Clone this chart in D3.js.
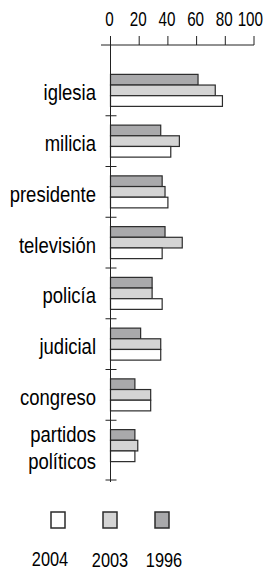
<!DOCTYPE html>
<html>
<head>
<meta charset="utf-8">
<script src="https://cdn.jsdelivr.net/npm/d3@7"></script>
<style>
body { margin: 0; background: #fff; }
text { font-family: "Liberation Sans", Arial, sans-serif; fill: #000; }
</style>
</head>
<body>
<svg id="chart"></svg>
<script>
// categories top to bottom (percent)
const categories = ['iglesia', 'milicia', 'presidente', 'televisión', 'policía', 'judicial', 'congreso', 'partidos\npolíticos'];
const years = ['1996', '2003', '2004'];
const values1996 = [61, 35, 36, 38, 29, 21, 17, 17];
const values2003 = [73, 48, 38, 50, 29, 35, 28, 19];
const values2004 = [78, 42, 40, 36, 36, 35, 28, 17];
const xticks = [0, 20, 40, 60, 80, 100];
const legendYears = ['2004', '2003', '1996'];

class BarChart{

    constructor( config, data ){
	this.config = {
	    parent: config.parent,
	    width: config.width || 265,
	    height: config.height || 570
	}
	this.data = data;
	this.init();
    }

    init() {
	let self = this;

	self.svg = d3.select( self.config.parent )
	    .attr('width', self.config.width)
	    .attr('height', self.config.height);

	self.colors = d3.scaleOrdinal()
	    .domain(years)
	    .range(['#a9a9ab', '#d4d4d4', '#ffffff']);

	self.xscale = d3.scaleLinear()
	    .domain([0, 100])
	    .range([110.5, 254]);

	self.yscale = d3.scaleBand()
	    .domain(categories)
	    .range([65, 471]);

	self.inner = d3.scaleBand()
	    .domain(years)
	    .range([0, 32]);

	self.axis_y = 45;
    }

    render() {
	let self = this;
	let x0 = self.xscale(0);
	// the source font is condensed, so squeeze text horizontally
	let place = (x, y, k) => `translate(${x}, ${y}) scale(${k}, 1)`;

	// bars
	self.svg.append('g').selectAll('g')
	    .data(self.data)
	    .join('g')
	    .attr('transform', d => `translate(0, ${self.yscale(d.name) + (self.yscale.bandwidth() - 32) / 2})`)
	    .selectAll('rect')
	    .data(d => years.map(y => ({ year: y, value: d[y] })))
	    .join('rect')
	    .attr('x', x0)
	    .attr('y', d => self.inner(d.year))
	    .attr('width', d => self.xscale(d.value) - x0)
	    .attr('height', self.inner.bandwidth())
	    .attr('fill', d => self.colors(d.year))
	    .attr('stroke', '#2b2b2b')
	    .attr('stroke-width', 1.2);

	// top axis
	let xaxis = self.svg.append('g');
	xaxis.append('line')
	    .attr('x1', 101).attr('x2', self.xscale(100))
	    .attr('y1', self.axis_y).attr('y2', self.axis_y)
	    .attr('stroke', '#222');
	xaxis.selectAll('.tk')
	    .data(xticks)
	    .join('line')
	    .attr('x1', d => self.xscale(d)).attr('x2', d => self.xscale(d))
	    .attr('y1', self.axis_y - 9).attr('y2', self.axis_y)
	    .attr('stroke', '#222');
	xaxis.selectAll('text')
	    .data(xticks)
	    .join('text')
	    .attr('transform', (d, i) => place(i == xticks.length - 1 ? 263 : self.xscale(d) - 1, 26, 0.78))
	    .attr('text-anchor', (d, i) => i == xticks.length - 1 ? 'end' : 'middle')
	    .attr('font-size', 19.5)
	    .text(d => d);

	// left axis
	let yaxis = self.svg.append('g');
	yaxis.append('line')
	    .attr('x1', x0).attr('x2', x0)
	    .attr('y1', self.axis_y - 9).attr('y2', 482)
	    .attr('stroke', '#222');
	let bounds = categories.slice(1).map(c => self.yscale(c)).concat([480]);
	yaxis.selectAll('.tk')
	    .data(bounds)
	    .join('line')
	    .attr('x1', x0 - 5).attr('x2', x0 + 6)
	    .attr('y1', d => d).attr('y2', d => d)
	    .attr('stroke', '#222');

	// category labels
	yaxis.selectAll('text')
	    .data(categories)
	    .join('text')
	    .attr('text-anchor', 'end')
	    .attr('font-size', 21.5)
	    .attr('transform', c => place(96, self.yscale(c) + self.yscale.bandwidth() / 2 + 9, 0.86))
	    .each(function(c) {
		let lines = c.split('\n');
		d3.select(this).selectAll('tspan')
		    .data(lines)
		    .join('tspan')
		    .attr('x', 0)
		    .attr('y', (l, i) => 1 + (i - (lines.length - 1) / 2) * 27)
		    .text(l => l);
	    });

	// legend
	let lx = d3.scalePoint()
	    .domain(legendYears)
	    .range([58, 162]);
	let legend = self.svg.append('g');
	legend.selectAll('rect')
	    .data(legendYears)
	    .join('rect')
	    .attr('x', d => lx(d) - 7)
	    .attr('y', 512)
	    .attr('width', 14)
	    .attr('height', 16)
	    .attr('fill', d => self.colors(d))
	    .attr('stroke', '#2b2b2b')
	    .attr('stroke-width', 1.5);
	legend.selectAll('text')
	    .data(legendYears)
	    .join('text')
	    .attr('transform', (d, i) => place(lx(d) + (i == 0 ? -8 : 0) + (i == 2 ? 2 : 0), i == 0 ? 566 : 567, 0.84))
	    .attr('text-anchor', 'middle')
	    .attr('font-size', 19.5)
	    .text(d => d);
    }
}

let data = categories.map((c, i) => ({
    name: c,
    '1996': values1996[i],
    '2003': values2003[i],
    '2004': values2004[i]
}));

let chart = new BarChart({ parent: '#chart', width: 265, height: 570 }, data);
chart.render();
</script>
</body>
</html>
